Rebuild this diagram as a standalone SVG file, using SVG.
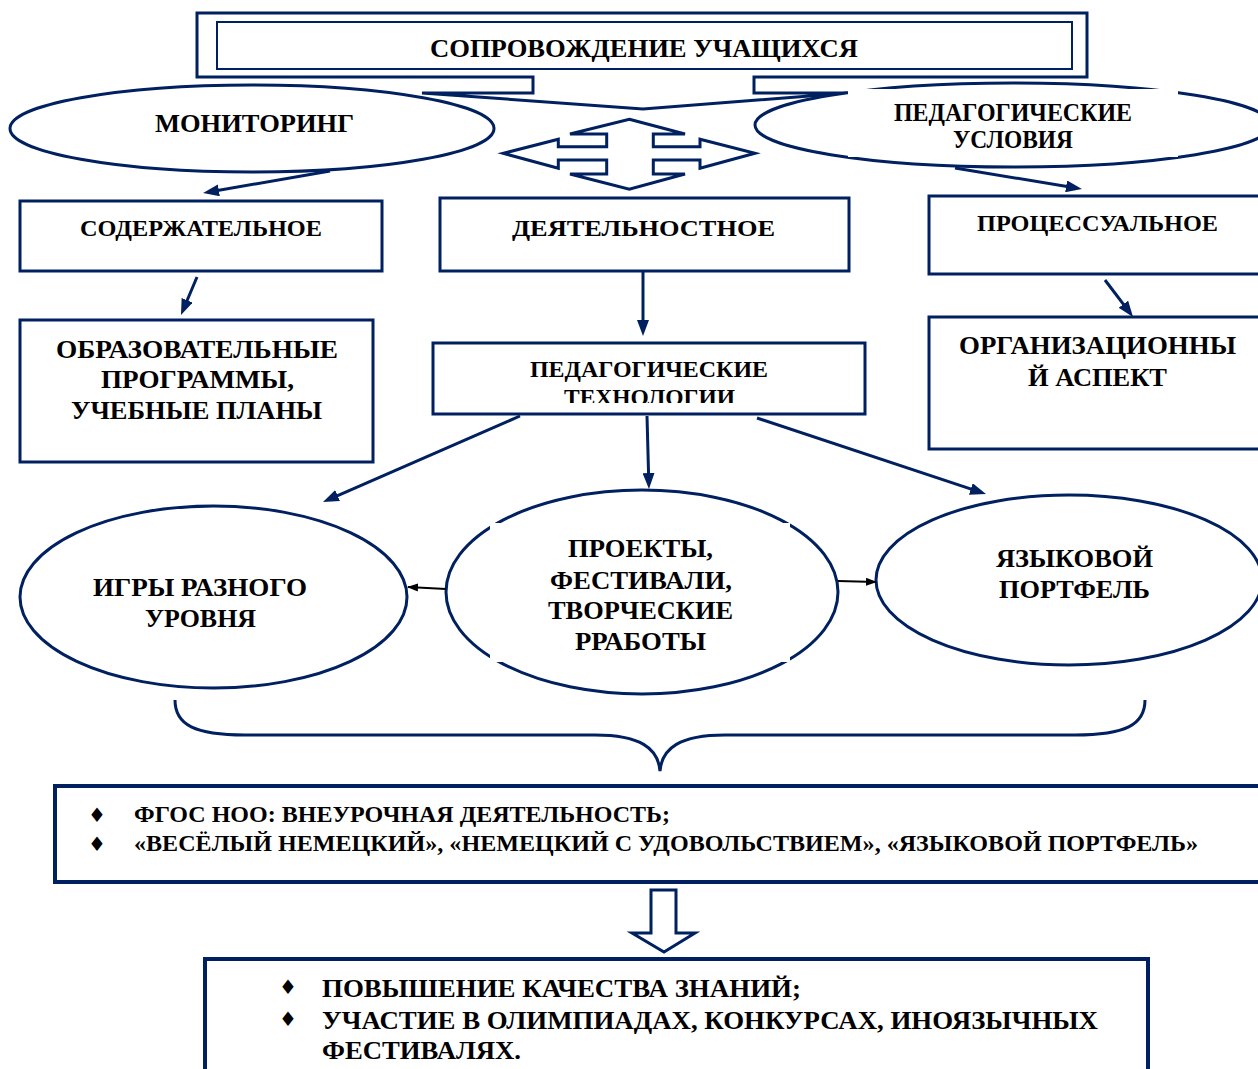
<svg xmlns="http://www.w3.org/2000/svg" width="1258" height="1069" viewBox="0 0 1258 1069">
<defs>
<style>
.s{fill:#fff;stroke:#002060;stroke-width:3}
.t{font-family:"Liberation Serif","Times New Roman",serif;font-weight:bold;fill:#000}
.c{fill:none;stroke:#002060;stroke-width:3}
.k{fill:none;stroke:#000;stroke-width:2}
.b{font-family:"DejaVu Sans",sans-serif;font-size:20px;fill:#000}
.w{fill:#fff;stroke:none}
</style>
<marker id="an" markerUnits="userSpaceOnUse" viewBox="0 0 16 12" refX="10" refY="6" markerWidth="16" markerHeight="12" orient="auto">
<path d="M0,0 L16,6 L0,12 z" fill="#002060"/>
</marker>
<marker id="ak" markerUnits="userSpaceOnUse" viewBox="0 0 11 8" refX="10" refY="4" markerWidth="11" markerHeight="8" orient="auto">
<path d="M0,0 L11,4 L0,8 z" fill="#000"/>
</marker>
<clipPath id="clipTech"><rect x="433" y="340" width="432" height="63"/></clipPath>
</defs>

<g id="top">
<path class="s" d="M197,13 H1087 V77 H754 V93 H847 L643,109 L422,93 H533 V77 H197 Z"/>
<rect x="217" y="22" width="855" height="47" fill="#fff" stroke="#002060" stroke-width="2"/>
<text class="t" x="430" y="57" font-size="25" textLength="428" lengthAdjust="spacingAndGlyphs">СОПРОВОЖДЕНИЕ УЧАЩИХСЯ</text>
</g>

<g id="monitoring">
<ellipse class="s" cx="252" cy="128.5" rx="242" ry="43.5"/>
<text class="t" x="155" y="132" font-size="26" textLength="199" lengthAdjust="spacingAndGlyphs">МОНИТОРИНГ</text>
</g>

<g id="conditions">
<ellipse class="s" cx="1013" cy="125" rx="258" ry="42"/>
<rect class="w" x="848" y="89" width="330" height="68"/>
<text class="t" x="894" y="121" font-size="25" textLength="238" lengthAdjust="spacingAndGlyphs">ПЕДАГОГИЧЕСКИЕ</text>
<text class="t" x="953" y="148" font-size="25" textLength="120" lengthAdjust="spacingAndGlyphs">УСЛОВИЯ</text>
</g>

<g id="bidir">
<path class="s" d="M629.3,119.3 L685,134 H653.3 V146.7 H700 V139.3 L755,153.3 L700,168.3 V160 H653.3 V174 H685 L629.3,189.3 L570,174 H606.7 V160 H558.3 V168.3 L503.3,153.3 L558.3,139.3 V146.7 H606.7 V134 H570 Z"/>
</g>

<g id="content">
<rect class="s" x="20" y="201" width="362" height="70"/>
<text class="t" x="80" y="236" font-size="23" textLength="242" lengthAdjust="spacingAndGlyphs">СОДЕРЖАТЕЛЬНОЕ</text>
</g>

<g id="activity">
<rect class="s" x="440" y="198" width="409" height="73"/>
<text class="t" x="512" y="236" font-size="24" textLength="263" lengthAdjust="spacingAndGlyphs">ДЕЯТЕЛЬНОСТНОЕ</text>
</g>

<g id="process">
<rect class="s" x="929" y="196" width="340" height="78"/>
<text class="t" x="977" y="231" font-size="23" textLength="241" lengthAdjust="spacingAndGlyphs">ПРОЦЕССУАЛЬНОЕ</text>
</g>

<g id="programs">
<rect class="s" x="20" y="320" width="353" height="142"/>
<text class="t" x="56" y="358" font-size="25" textLength="282" lengthAdjust="spacingAndGlyphs">ОБРАЗОВАТЕЛЬНЫЕ</text>
<text class="t" x="101" y="388" font-size="25" textLength="193" lengthAdjust="spacingAndGlyphs">ПРОГРАММЫ,</text>
<text class="t" x="71" y="419" font-size="25" textLength="251" lengthAdjust="spacingAndGlyphs">УЧЕБНЫЕ ПЛАНЫ</text>
</g>

<g id="tech">
<rect class="s" x="433" y="343" width="432" height="71"/>
<text class="t" x="530" y="377" font-size="23" textLength="238" lengthAdjust="spacingAndGlyphs">ПЕДАГОГИЧЕСКИЕ</text>
<text class="t" x="564" y="405" font-size="23" textLength="171" lengthAdjust="spacingAndGlyphs" clip-path="url(#clipTech)">ТЕХНОЛОГИИ</text>
</g>

<g id="org">
<rect class="s" x="929" y="317" width="340" height="132"/>
<text class="t" x="959" y="354" font-size="25" textLength="277" lengthAdjust="spacingAndGlyphs">ОРГАНИЗАЦИОННЫ</text>
<text class="t" x="1028" y="386" font-size="25" textLength="139" lengthAdjust="spacingAndGlyphs">Й АСПЕКТ</text>
</g>

<g id="games">
<ellipse class="s" cx="213.5" cy="597" rx="193.5" ry="91"/>
<text class="t" x="93" y="596" font-size="25" textLength="214" lengthAdjust="spacingAndGlyphs">ИГРЫ РАЗНОГО</text>
<text class="t" x="145" y="627" font-size="25" textLength="111" lengthAdjust="spacingAndGlyphs">УРОВНЯ</text>
</g>

<g id="projects">
<ellipse class="s" cx="642" cy="592" rx="196" ry="102"/>
<rect class="w" x="490" y="523" width="300" height="139"/>
<text class="t" x="568" y="557" font-size="25" textLength="145" lengthAdjust="spacingAndGlyphs">ПРОЕКТЫ,</text>
<text class="t" x="550" y="589" font-size="25" textLength="182" lengthAdjust="spacingAndGlyphs">ФЕСТИВАЛИ,</text>
<text class="t" x="548" y="619" font-size="25" textLength="185" lengthAdjust="spacingAndGlyphs">ТВОРЧЕСКИЕ</text>
<text class="t" x="575" y="650" font-size="25" textLength="131" lengthAdjust="spacingAndGlyphs">РРАБОТЫ</text>
</g>

<g id="portfolio">
<ellipse class="s" cx="1069" cy="580" rx="193" ry="85"/>
<text class="t" x="996" y="567" font-size="25" textLength="157" lengthAdjust="spacingAndGlyphs">ЯЗЫКОВОЙ</text>
<text class="t" x="999" y="598" font-size="25" textLength="151" lengthAdjust="spacingAndGlyphs">ПОРТФЕЛЬ</text>
</g>

<g id="connectors">
<line class="c" x1="330" y1="171" x2="209" y2="192" marker-end="url(#an)"/>
<line class="c" x1="955" y1="168" x2="1076" y2="188" marker-end="url(#an)"/>
<line class="c" x1="197" y1="277" x2="183.3" y2="309.5" marker-end="url(#an)"/>
<line class="c" x1="643" y1="271" x2="643" y2="330" marker-end="url(#an)"/>
<line class="c" x1="1105" y1="280" x2="1129.4" y2="312.2" marker-end="url(#an)"/>
<line class="c" x1="520" y1="416" x2="328.5" y2="499.6" marker-end="url(#an)"/>
<line class="c" x1="647" y1="416" x2="648.8" y2="483" marker-end="url(#an)"/>
<line class="c" x1="757" y1="418" x2="980.3" y2="492.1" marker-end="url(#an)"/>
<line class="k" x1="446" y1="589" x2="408" y2="587" marker-end="url(#ak)"/>
<line class="k" x1="838" y1="581" x2="876" y2="582" marker-end="url(#ak)"/>
<path class="c" d="M175,700 C175,725 195,735 245,735 L595,735 C640,735 658,748 660,771 C662,748 680,735 725,735 L1075,735 C1125,735 1145,725 1145,700"/>
<path class="s" d="M651,890 H676 V933 H695 L664,952 L632,933 H651 Z"/>
</g>

<g id="fgos">
<rect x="55" y="786" width="1215" height="96" fill="#fff" stroke="#002060" stroke-width="4"/>
<text class="b" x="88" y="822">♦</text>
<text class="b" x="88" y="851">♦</text>
<text class="t" x="134" y="822" font-size="23" textLength="536" lengthAdjust="spacingAndGlyphs">ФГОС НОО: ВНЕУРОЧНАЯ ДЕЯТЕЛЬНОСТЬ;</text>
<text class="t" x="134" y="851" font-size="23" textLength="1064" lengthAdjust="spacingAndGlyphs">«ВЕСЁЛЫЙ НЕМЕЦКИЙ», «НЕМЕЦКИЙ С УДОВОЛЬСТВИЕМ», «ЯЗЫКОВОЙ ПОРТФЕЛЬ»</text>
</g>

<g id="results">
<rect x="205" y="959" width="943" height="120" fill="#fff" stroke="#002060" stroke-width="4"/>
<text class="b" x="279" y="994">♦</text>
<text class="b" x="279" y="1026">♦</text>
<text class="t" x="322" y="997" font-size="25" textLength="479" lengthAdjust="spacingAndGlyphs">ПОВЫШЕНИЕ КАЧЕСТВА ЗНАНИЙ;</text>
<text class="t" x="322" y="1029" font-size="25" textLength="776" lengthAdjust="spacingAndGlyphs">УЧАСТИЕ В ОЛИМПИАДАХ, КОНКУРСАХ, ИНОЯЗЫЧНЫХ</text>
<text class="t" x="322" y="1059" font-size="25" textLength="199" lengthAdjust="spacingAndGlyphs">ФЕСТИВАЛЯХ.</text>
</g>
</svg>
